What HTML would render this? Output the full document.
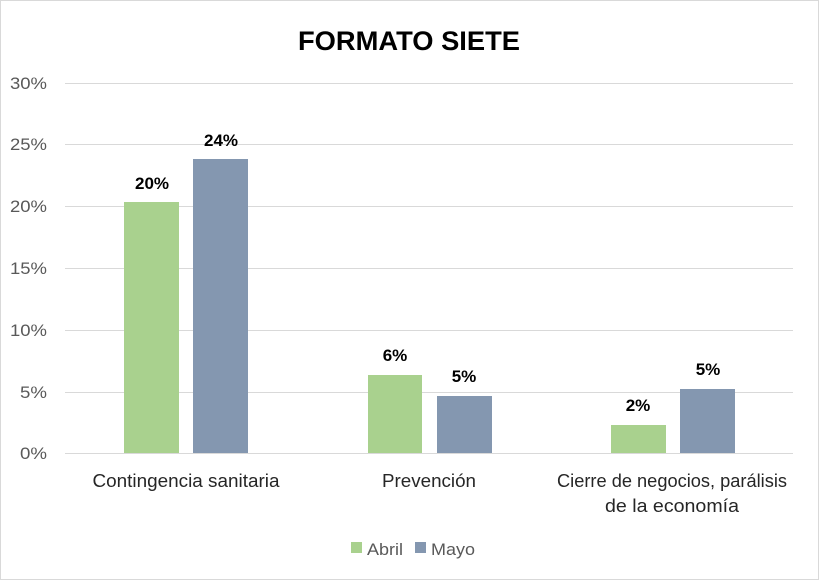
<!DOCTYPE html>
<html><head><style>body{margin:0;background:#fff}svg{display:block}text{font-family:"Liberation Sans",sans-serif}</style></head>
<body>
<svg width="819" height="580" xmlns="http://www.w3.org/2000/svg">
<rect x="0.5" y="0.5" width="818" height="579" fill="#fff" stroke="#d9d9d9"/>
<text x="409" y="50" text-anchor="middle" font-size="27" font-weight="bold" fill="#000" textLength="222" lengthAdjust="spacingAndGlyphs">FORMATO SIETE</text>
<g stroke="#d9d9d9" stroke-width="1">
<line x1="65" x2="793" y1="83.5" y2="83.5"/><line x1="65" x2="793" y1="144.5" y2="144.5"/>
<line x1="65" x2="793" y1="206.5" y2="206.5"/><line x1="65" x2="793" y1="268.5" y2="268.5"/>
<line x1="65" x2="793" y1="330.5" y2="330.5"/><line x1="65" x2="793" y1="392.5" y2="392.5"/>
<line x1="65" x2="793" y1="453.5" y2="453.5"/>
</g>
<g font-size="17" fill="#595959" text-anchor="end">
<text x="47" y="89" textLength="37" lengthAdjust="spacingAndGlyphs">30%</text><text x="47" y="150" textLength="37" lengthAdjust="spacingAndGlyphs">25%</text><text x="47" y="212" textLength="37" lengthAdjust="spacingAndGlyphs">20%</text>
<text x="47" y="274" textLength="37" lengthAdjust="spacingAndGlyphs">15%</text><text x="47" y="336" textLength="37" lengthAdjust="spacingAndGlyphs">10%</text><text x="47" y="398" textLength="27" lengthAdjust="spacingAndGlyphs">5%</text><text x="47" y="459" textLength="27" lengthAdjust="spacingAndGlyphs">0%</text>
</g>
<g fill="#a9d18e"><rect x="124" y="202" width="55" height="251"/><rect x="368" y="375" width="54" height="78"/><rect x="611" y="425" width="55" height="28"/></g>
<g fill="#8497b0"><rect x="193" y="159" width="55" height="294"/><rect x="437" y="396" width="55" height="57"/><rect x="680" y="389" width="55" height="64"/></g>
<g font-size="17" font-weight="bold" fill="#000" text-anchor="middle">
<text x="152" y="189">20%</text><text x="221" y="146">24%</text>
<text x="395" y="361">6%</text><text x="464" y="382">5%</text>
<text x="638" y="411">2%</text><text x="708" y="375">5%</text>
</g>
<g font-size="18" fill="#262626" text-anchor="middle">
<text x="186" y="487" textLength="187" lengthAdjust="spacingAndGlyphs">Contingencia sanitaria</text>
<text x="429" y="487" textLength="94" lengthAdjust="spacingAndGlyphs">Prevención</text>
<text x="672" y="487" textLength="230" lengthAdjust="spacingAndGlyphs">Cierre de negocios, parálisis</text>
<text x="672" y="512" textLength="134" lengthAdjust="spacingAndGlyphs">de la economía</text>
</g>
<rect x="351" y="542" width="11" height="11" fill="#a9d18e"/>
<text x="367" y="555" font-size="17" fill="#595959" textLength="36" lengthAdjust="spacingAndGlyphs">Abril</text>
<rect x="415" y="542" width="11" height="11" fill="#8497b0"/>
<text x="431" y="555" font-size="17" fill="#595959" textLength="44" lengthAdjust="spacingAndGlyphs">Mayo</text>
</svg>
</body></html>
